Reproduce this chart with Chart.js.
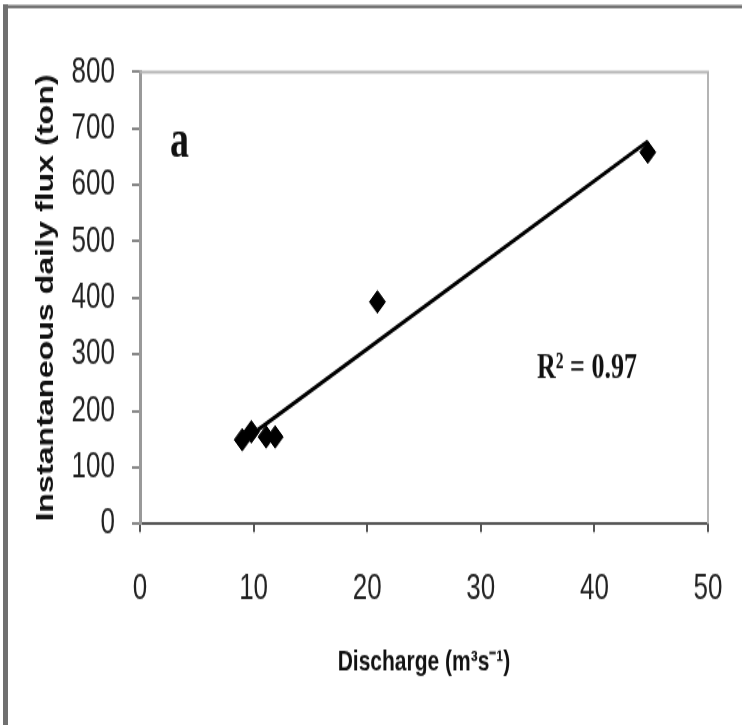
<!DOCTYPE html>
<html>
<head>
<meta charset="utf-8">
<script src="https://cdn.jsdelivr.net/npm/chart.js@4/dist/chart.umd.min.js"></script>
<style>
    html, body { margin: 0; padding: 0; background: #fff; }
    #page { width: 742px; height: 725px; overflow: hidden; }
    #wrap { width: 742px; height: 518px; transform: scaleY(1.3996); transform-origin: 0 0; }
    #plot { display: block; }
</style>
</head>
<body>
<div id="page"><div id="wrap"><canvas id="plot" width="742" height="518"></canvas></div></div>
<script>
// measured discharge vs instantaneous daily flux
const discharge = [9.0, 9.8, 11.1, 11.9, 20.9, 44.7];
const dailyFlux = [149, 163, 154, 154, 393, 658];

const xTicks = [0, 10, 20, 30, 40, 50];
const yTicks = [0, 100, 200, 300, 400, 500, 600, 700, 800];

const panelLetter = 'a';
const rSquaredText = 'R\u00b2 = 0.97';

function linearFit(xs, ys) {
    const n = xs.length;
    const mx = xs.reduce((a, b) => a + b, 0) / n;
    const my = ys.reduce((a, b) => a + b, 0) / n;
    let sxy = 0, sxx = 0;
    xs.forEach((x, i) => {
        sxy += (x - mx) * (ys[i] - my);
        sxx += (x - mx) * (x - mx);
    });
    const slope = sxy / sxx;
    return { slope: slope, intercept: my - slope * mx };
}

const fit = linearFit(discharge, dailyFlux);
const xLo = Math.min(...discharge);
const xHi = Math.max(...discharge);
const trendLine = [xLo, xHi].map(x => ({ x: x, y: fit.intercept + fit.slope * x }));
const points = discharge.map((x, i) => ({ x: x, y: dailyFlux[i] }));

// outer frame, light box round the plot, and the text labels inside it
const decorations = {
    id: 'decorations',
    beforeDatasetsDraw(chart) {
        const ctx = chart.ctx;
        const area = chart.chartArea;
        ctx.save();
        ctx.strokeStyle = '#b4b4b4';
        ctx.lineWidth = 2;
        ctx.beginPath();
        ctx.moveTo(area.left, area.top);
        ctx.lineTo(area.right, area.top);
        ctx.lineTo(area.right, area.bottom);
        ctx.stroke();
        ctx.restore();
    },
    afterDraw(chart) {
        const ctx = chart.ctx;
        const area = chart.chartArea;
        ctx.save();
        ctx.fillStyle = '#707070';
        ctx.fillRect(3, 3, 5, chart.height);
        ctx.fillRect(3, 3.5, chart.width, 2.4);

        ctx.fillStyle = '#111';
        ctx.textAlign = 'left';
        ctx.textBaseline = 'alphabetic';
        ctx.font = 'bold 38px "Liberation Serif"';
        ctx.fillText(panelLetter, area.left + 30, area.top + 61);
        ctx.font = 'bold 26px "Liberation Serif"';
        ctx.fillText(rSquaredText, area.left + 397, area.top + 219);
        ctx.restore();
    }
};

new Chart(document.getElementById('plot'), {
    type: 'scatter',
    data: {
        datasets: [
            {
                type: 'line',
                data: trendLine,
                borderColor: '#000',
                borderWidth: 3,
                pointRadius: 0,
                fill: false
            },
            {
                data: points,
                pointStyle: 'rectRot',
                pointRadius: 8,
                backgroundColor: '#000',
                borderColor: '#000',
                borderWidth: 1
            }
        ]
    },
    options: {
        responsive: false,
        animation: false,
        devicePixelRatio: 1,
        layout: { padding: { left: 0, right: 34, top: 51.4, bottom: 0 } },
        plugins: { legend: { display: false }, tooltip: { enabled: false } },
        scales: {
            x: {
                type: 'linear',
                min: 0,
                max: 50,
                afterBuildTicks: s => { s.ticks = xTicks.map(v => ({ value: v })); },
                afterFit: s => { s.height = 143.7; s.paddingLeft = 0; s.paddingRight = 0; },
                border: { color: '#555', width: 2 },
                grid: { drawOnChartArea: false, color: '#555', tickLength: 6, lineWidth: 2 },
                ticks: { color: '#222', padding: 25, font: { family: 'Liberation Sans', size: 26 } },
                title: {
                    display: true,
                    text: 'Discharge (m\u00b3s\u207b\u00b9)',
                    color: '#111',
                    font: { family: 'Liberation Sans', weight: 'bold', size: 21 },
                    padding: { top: 0, bottom: 32 }
                }
            },
            y: {
                type: 'linear',
                min: 0,
                max: 800,
                afterBuildTicks: s => { s.ticks = yTicks.map(v => ({ value: v })); },
                afterFit: s => { s.width = 140; },
                border: { color: '#999', width: 3 },
                grid: { drawOnChartArea: false, color: '#888', tickLength: 8, lineWidth: 2 },
                ticks: { color: '#222', padding: 17, font: { family: 'Liberation Sans', size: 26 } },
                title: {
                    display: true,
                    text: 'Instantaneous daily flux (ton)',
                    color: '#111',
                    font: { family: 'Liberation Sans', weight: 'bold', size: 23 },
                    padding: { top: 33, bottom: 0 }
                }
            }
        }
    },
    plugins: [decorations]
});
</script>
</body>
</html>
